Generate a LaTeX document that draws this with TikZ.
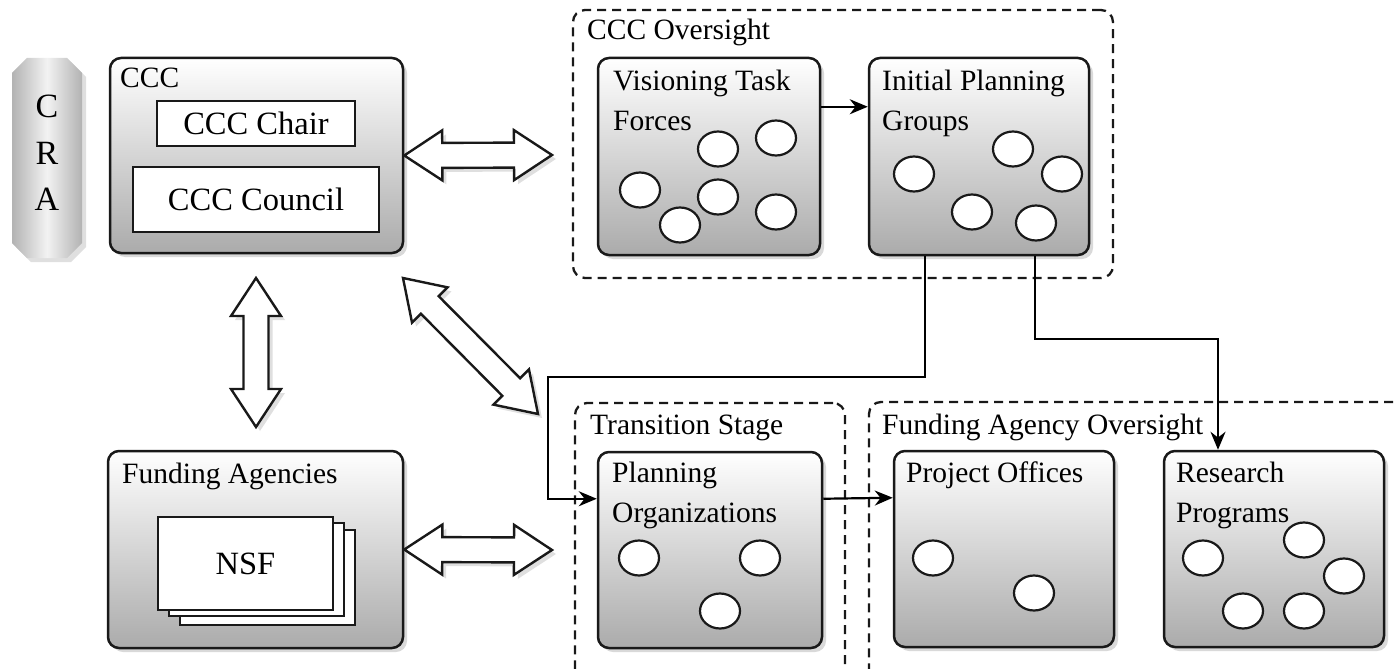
\documentclass[tikz,border=0pt]{standalone}
\usepackage{fontspec}
\setmainfont{Liberation Serif}
\usetikzlibrary{shapes.geometric,shadows,arrows.meta,calc}

\newcommand\lblfont{\fontsize{29.5}{40}\selectfont}
\newcommand\inboxfont{\fontsize{32.5}{38}\selectfont}
% wide hollow double arrow between two named points
\newcommand\widearrow[2]{%
  \pgfpointdiff{\pgfpointanchor{#1}{center}}{\pgfpointanchor{#2}{center}}%
  \pgfgetlastxy\arrdx\arrdy
  \pgfmathsetmacro\arrlen{veclen(\arrdx,\arrdy)}%
  \pgfmathsetmacro\arrang{atan2(\arrdy,\arrdx)}%
  \pgfmathsetmacro\arrback{\arrlen-38}%
  \begin{scope}[shift={(#1)}, x=1pt, y=1pt, rotate=\arrang]
    \draw[fatarrow] (0,0) -- (38,25) -- (38,12.5) -- (\arrback,12.5) -- (\arrback,25)
      -- (\arrlen,0) -- (\arrback,-25) -- (\arrback,-12.5) -- (38,-12.5) -- (38,-25) -- cycle;
  \end{scope}}

\begin{document}
\begin{tikzpicture}[x=1pt, y=-1pt,
  unitbox/.style={draw=black!90, line width=2.5, rounded corners=11, top color=white, bottom color=black!33,
    drop shadow={shadow xshift=4pt, shadow yshift=-4pt, opacity=.3}},
  whitebox/.style={draw=black!90, line width=2.5, fill=white},
  group/.style={draw=black!90, line width=2.3, rounded corners=12, dash pattern=on 9pt off 6pt},
  member/.style={ellipse, draw=black!90, line width=2.2, fill=white, minimum width=40, minimum height=35, inner sep=0},
  lbl/.style={anchor=base west, inner sep=0, align=left, font=\lblfont},
  flow/.style={-{Stealth[length=18pt,width=15pt]}, line width=2.2},
  fatarrow/.style={draw=black!90, line width=2.4, fill=white,
    drop shadow={shadow xshift=4pt, shadow yshift=-4pt, opacity=.25}}]
				%%%%% START %%%%%
				\useasboundingbox (0,0) rectangle (1395,669);

				% groups
				\node[group, minimum width=540, minimum height=268] (ovs) at (843,144) {};
				\node[group, minimum width=270, minimum height=287] (trans) at (710,546.5) {};
				\node[group, minimum width=551, minimum height=288] (fao) at (1144.5,546) {};
				\node[lbl] (ovslbl) at (587,40) {CCC Oversight};
				\node[lbl] (translbl) at (590,434) {Transition Stage};
				\node[lbl] (faolbl) at (882,434) {Funding Agency Oversight};

				% CRA
				\path[left color=black!30, right color=black!30, middle color=black!5,
				  drop shadow={shadow xshift=4pt, shadow yshift=-4pt, opacity=.25}]
				  (12,73) -- (27,58) -- (67,58) -- (82,73) -- (82,243) -- (67,258) -- (27,258) -- (12,243) -- cycle;
				\node[align=center, inner sep=0, font=\fontsize{34}{46.5}\selectfont] (cra) at (47,153) {C\\R\\A};

				% CCC
				\node[unitbox, minimum width=293, minimum height=195] (ccc) at (256.5,155.5) {};
				\node[lbl] (ccclbl) at (120,88) {CCC};
				\node[whitebox, minimum width=198, minimum height=45, font=\inboxfont] (chair) at (256,123.5) {CCC Chair};
				\node[whitebox, minimum width=246, minimum height=65, font=\inboxfont] (council) at (256,199.5) {CCC Council};

				% funding agencies
				\node[unitbox, minimum width=295, minimum height=197] (fund) at (255.5,549.5) {};
				\node[lbl] (fundlbl) at (122,483) {Funding Agencies};
				\node[whitebox, minimum width=175, minimum height=95] (nsfc) at (267.5,577.5) {};
				\node[whitebox, minimum width=175, minimum height=93] (nsfb) at (256.5,569.5) {};
				\node[whitebox, minimum width=175, minimum height=93, font=\inboxfont] (nsf) at (245.5,563.5) {NSF};

				% boxes
				\node[unitbox, minimum width=222, minimum height=197] (vision) at (709,156.5) {};
				\node[lbl] (visionlbl) at (613,130) {Visioning Task\\Forces};
				\node[unitbox, minimum width=220, minimum height=197] (initial) at (979,156.5) {};
				\node[lbl] (initiallbl) at (882,130) {Initial Planning\\Groups};
				\node[unitbox, minimum width=224, minimum height=196] (planorg) at (710,550) {};
				\node[lbl] (planorglbl) at (612,522) {Planning\\Organizations};
				\node[unitbox, minimum width=220, minimum height=196] (projoff) at (1004,549) {};
				\node[lbl] (projofflbl) at (906,482) {Project Offices};
				\node[unitbox, minimum width=220, minimum height=196] (research) at (1274,549) {};
				\node[lbl] (researchlbl) at (1176,522) {Research\\Programs};

				% members
				\foreach \cx/\cy [count=\i] in {718/149, 776/138, 640/190, 718/197, 680/225, 776/212}
				  \node[member] (vt\i) at (\cx,\cy) {};
				\foreach \cx/\cy [count=\i] in {914/174, 1013/149, 1062/174, 972/212, 1036/223}
				  \node[member] (ip\i) at (\cx,\cy) {};
				\foreach \cx/\cy [count=\i] in {639/558, 760/558, 720/611}
				  \node[member] (po\i) at (\cx,\cy) {};
				\foreach \cx/\cy [count=\i] in {933/558, 1034/593}
				  \node[member] (pj\i) at (\cx,\cy) {};
				\foreach \cx/\cy [count=\i] in {1203/558, 1304/540, 1344/576, 1243/611, 1304/611}
				  \node[member] (rp\i) at (\cx,\cy) {};

				% flows
				\draw[flow] ([yshift=-50pt]vision.north east) -- ([yshift=-50pt]initial.north west);
				\draw[flow] ([yshift=-48pt]planorg.north east) -- ([yshift=-48pt]projoff.north west);
				\draw[flow] ([xshift=-54pt]initial.south) |- (548,377) |- ([yshift=-48pt]planorg.north west);
				\draw[flow] ([xshift=56pt]initial.south) |- (1218,339) -- ([xshift=-56pt]research.north);

				% wide double arrows
				\coordinate (cccright) at (ccc.east);
				\coordinate (fundright) at (fund.east);
				\coordinate (ovsend) at (552,155);
				\coordinate (fundend) at (552,550);
				\coordinate (cccdown) at (256,278);
				\coordinate (fundup) at (256,427);
				\coordinate (diagtop) at (403,278);
				\coordinate (diagend) at (538,414);
				\widearrow{cccright}{ovsend}
				\widearrow{fundright}{fundend}
				\widearrow{cccdown}{fundup}
				\widearrow{diagtop}{diagend}
				%%%%% END %%%%%
\end{tikzpicture}
\end{document}
